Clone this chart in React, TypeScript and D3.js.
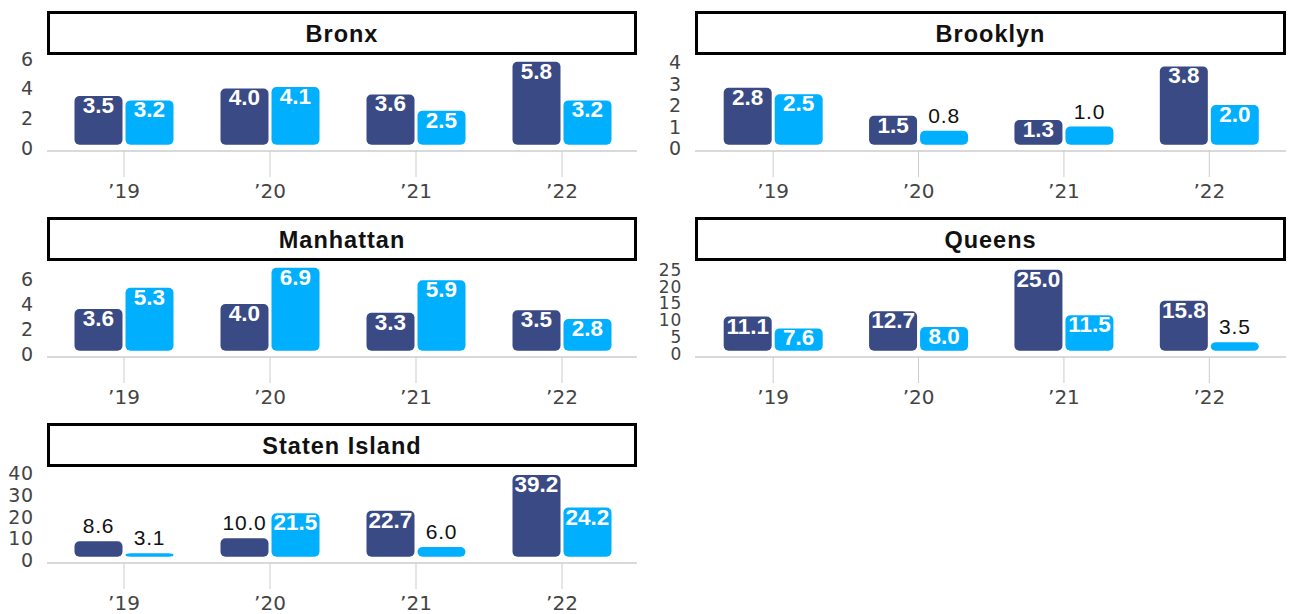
import React from "react";
import * as d3 from "d3";

const years = ["’19", "’20", "’21", "’22"];
const boroughs = ["Bronx", "Brooklyn", "Manhattan", "Queens", "Staten Island"];
const navyValues = [
  [3.5, 4.0, 3.6, 5.8],
  [2.8, 1.5, 1.3, 3.8],
  [3.6, 4.0, 3.3, 3.5],
  [11.1, 12.7, 25.0, 15.8],
  [8.6, 10.0, 22.7, 39.2],
];
const cyanValues = [
  [3.2, 4.1, 2.5, 3.2],
  [2.5, 0.8, 1.0, 2.0],
  [5.3, 6.9, 5.9, 2.8],
  [7.6, 8.0, 11.5, 3.5],
  [3.1, 21.5, 6.0, 24.2],
];
const yTicks = [
  [0, 2, 4, 6],
  [0, 1, 2, 3, 4],
  [0, 2, 4, 6],
  [0, 5, 10, 15, 20, 25],
  [0, 10, 20, 30, 40],
];
const domainMax = [6.05, 4.19, 7.2, 26.7, 41.5];

const NAVY = "#3a4a84";
const CYAN = "#00b0ff";
const W = 1291;
const H = 614;

function Panel({ idx }: { idx: number }) {
  const col = idx % 2;
  const row = Math.floor(idx / 2);
  const boxLeft = col === 0 ? 47 : 695;
  const boxRight = col === 0 ? 637 : 1286;
  const zeroY = 148 + row * 206;
  const topY = zeroY - 90;
  const x = d3
    .scaleBand<string>()
    .domain(years)
    .range(col === 0 ? [51, 635] : [700.5, 1282])
    .padding(0);
  const y = d3.scaleLinear().domain([0, domainMax[idx]]).range([zeroY, topY]);
  const barW = 48;
  const gap = 3;
  const boxTop = 12.5 + row * 206;
  const axisY = zeroY + 3;

  const bars: any[] = [];
  years.forEach((yr, i) => {
    const c = (x(yr) as number) + x.bandwidth() / 2;
    [
      { v: navyValues[idx][i], color: NAVY, bx: c - gap / 2 - barW },
      { v: cyanValues[idx][i], color: CYAN, bx: c + gap / 2 },
    ].forEach((b, j) => {
      const top = y(b.v);
      const bottom = y(0) - 3.3;
      const fullH = y(0) - top;
      const inside = fullH >= 24;
      bars.push(
        <g key={`${i}-${j}`}>
          <rect
            x={b.bx}
            y={top}
            width={barW}
            height={Math.max(0.5, bottom - top)}
            rx={5}
            fill={b.color}
          />
          {inside ? (
            <text
              x={b.bx + barW / 2}
              y={top + 17}
              textAnchor="middle"
              fill="#fff"
              fontFamily="'Liberation Sans', Arial, sans-serif"
              fontWeight={700}
              fontSize={22.5}
            >
              {b.v.toFixed(1)}
            </text>
          ) : (
            <text
              x={b.bx + barW / 2}
              y={top - 8}
              textAnchor="middle"
              fill="#111"
              fontFamily="'Liberation Sans', Arial, sans-serif"
              fontSize={21}
              letterSpacing={0.8}
            >
              {b.v.toFixed(1)}
            </text>
          )}
        </g>
      );
    });
  });

  return (
    <g>
      <rect
        x={boxLeft + 1.5}
        y={boxTop}
        width={boxRight - boxLeft - 3}
        height={41}
        fill="#fff"
        stroke="#000"
        strokeWidth={3}
      />
      <text
        x={(boxLeft + boxRight) / 2}
        y={boxTop + 21}
        dominantBaseline="central"
        textAnchor="middle"
        fontFamily="'Liberation Sans', Arial, sans-serif"
        fontWeight={700}
        fontSize={23.5}
        letterSpacing={1}
        fill="#111"
      >
        {boroughs[idx]}
      </text>
      {yTicks[idx].map((t) => (
        <text
          key={t}
          x={boxLeft - 13}
          y={y(t)}
          dominantBaseline="central"
          textAnchor="end"
          fontFamily="'DejaVu Sans', sans-serif"
          fontSize={idx === 3 ? 17 : 19}
          letterSpacing={0.8}
          fill="#444"
        >
          {t}
        </text>
      ))}
      <line x1={boxLeft} x2={boxRight} y1={axisY} y2={axisY} stroke="#ccc" strokeWidth={1.5} />
      {years.map((yr) => {
        const c = (x(yr) as number) + x.bandwidth() / 2;
        return (
          <g key={yr}>
            <line x1={c} x2={c} y1={axisY} y2={zeroY + 29} stroke="#ccc" strokeWidth={1} />
            <text
              x={c}
              y={zeroY + 50}
              textAnchor="middle"
              fontFamily="'DejaVu Sans', sans-serif"
              fontSize={20}
              fill="#444"
            >
              {yr}
            </text>
          </g>
        );
      })}
      {bars}
    </g>
  );
}

export default function App() {
  return (
    <svg
      width={W}
      height={H}
      style={{ position: "absolute", left: 0, top: 0, background: "#fff" }}
    >
      <rect x={0} y={0} width={W} height={H} fill="#fff" />
      {boroughs.map((b, i) => (
        <Panel key={b} idx={i} />
      ))}
    </svg>
  );
}
